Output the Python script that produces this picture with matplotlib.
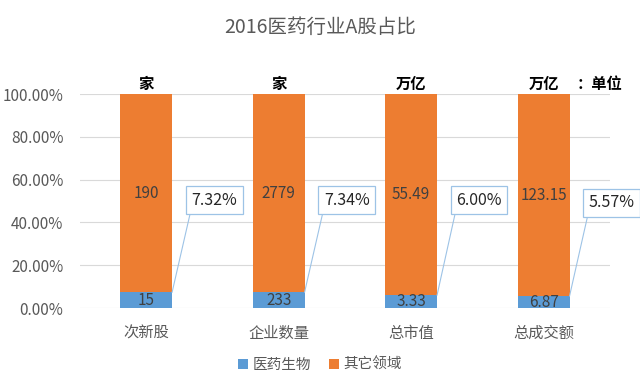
import numpy as np
import matplotlib
matplotlib.use('Agg')
import matplotlib.pyplot as plt

plt.rcParams['font.family'] = ['Noto Sans CJK SC', 'DejaVu Sans']

# Data
categories = ['次新股', '企业数量', '总市值', '总成交额']
units = ['家', '家', '万亿', '万亿']
pharma_values = ['15', '233', '3.33', '6.87']
other_values = ['190', '2779', '55.49', '123.15']
pharma_share = [7.32, 7.34, 6.00, 5.57]   # percent of each bar
share_labels = ['7.32%', '7.34%', '6.00%', '5.57%']

blue = '#5B9BD5'
orange = '#ED7D31'
gray = '#595959'

fig = plt.figure(figsize=(6.4, 3.78), dpi=100)
ax = fig.add_axes([0.125, 0.185, 0.828, 0.566])

x = np.arange(len(categories))
share = np.array(pharma_share)
other = 100 - share
width = 0.39

ax.bar(x, share, width, color=blue, label='医药生物', zorder=3)
ax.bar(x, other, width, bottom=share, color=orange, label='其它领域', zorder=3)

# value labels in the segments
for i in range(len(x)):
    ax.text(x[i], share[i] / 2, pharma_values[i], ha='center', va='center',
            fontsize=11, color='#404040', zorder=4)
    ax.text(x[i], share[i] + other[i] / 2, other_values[i], ha='center', va='center',
            fontsize=11, color='#404040', zorder=4)
    # unit above each bar
    ax.text(x[i], 104.7, units[i], ha='center', va='center', fontsize=11,
            color='black', fontweight='bold', clip_on=False)
    # callout with the share
    ax.annotate(share_labels[i], xy=(x[i] + width / 2, share[i]),
                xytext=(x[i] + 0.34, 46.5 - (1.2 if i == 3 else 0)),
                textcoords='data', ha='left', va='bottom', fontsize=11.5,
                color='#262626', zorder=5,
                bbox=dict(boxstyle='square,pad=0.35', fc='white', ec='#9DC3E6', lw=0.9),
                arrowprops=dict(arrowstyle='-', color='#9DC3E6', lw=0.8,
                                relpos=(0, 0), shrinkA=0, shrinkB=0))

ax.text(3.25, 104.7, '：单位', ha='left', va='center', fontsize=11,
        color='black', fontweight='bold', clip_on=False)

ax.set_xlim(-0.5, 3.5)
ax.set_ylim(0, 100)
ax.set_yticks(np.arange(0, 101, 20))
ax.set_yticklabels(['{:.2f}%'.format(v) for v in np.arange(0, 101, 20)])
ax.set_xticks(x)
ax.set_xticklabels(categories)
ax.tick_params(axis='both', length=0, colors=gray, labelsize=11)
ax.tick_params(axis='x', pad=12)
ax.tick_params(axis='y', pad=12)
ax.grid(axis='y', color='#D9D9D9', lw=0.8, zorder=0)
for s in ax.spines.values():
    s.set_visible(False)

fig.suptitle('2016医药行业A股占比', y=0.955, fontsize=14, color=gray)

fig.legend(loc='center', bbox_to_anchor=(0.5, 0.035), ncol=2, frameon=False,
           fontsize=10.5, handlelength=0.7, handleheight=0.7, handletextpad=0.3,
           columnspacing=1.2, labelcolor=gray)

fig.savefig('out.png', dpi=100)
